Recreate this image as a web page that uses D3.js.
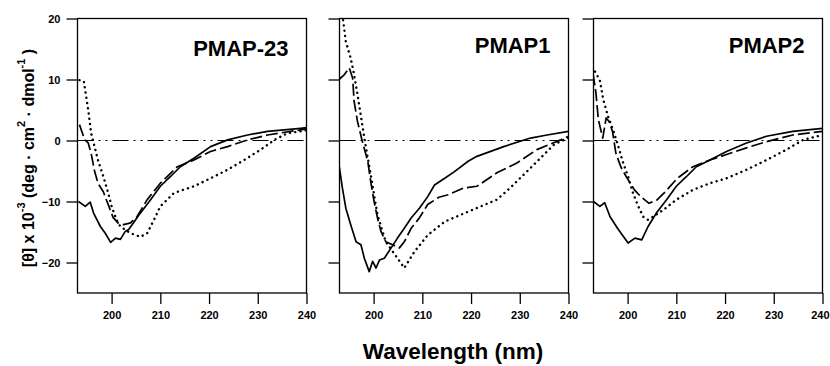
<!DOCTYPE html>
<html><head><meta charset="utf-8">
<script src="https://cdn.jsdelivr.net/npm/d3@7"></script>
<style>
html,body{margin:0;padding:0;background:#fff;}
svg{display:block;}
text{font-family:"Liberation Sans",Arial,sans-serif;font-weight:bold;fill:#000;}
</style></head>
<body>
<svg id="chart" width="830" height="366"></svg>
<script>
// ---------- data ----------
const panelNames = ["PMAP-23", "PMAP1", "PMAP2"];
const xTicks = [200, 210, 220, 230, 240];
const yTicks = [20, 10, 0, -10, -20];
const xDomain = [193, 240];
const yDomain = [-25, 20];

const pmap23Solid = [[193.2,-10.0],[194.6,-10.8],[195.6,-10.1],[196.3,-11.9],[197.7,-14.1],[198.7,-15.2],[199.8,-16.7],[200.8,-16.0],[201.8,-16.2],[202.8,-14.9],[203.5,-14.6],[204.5,-13.5],[205.6,-12.2],[206.6,-11.2],[208,-9.7],[210,-7.5],[212.1,-5.9],[214.1,-4.3],[216.9,-2.9],[220.3,-1.0],[223.8,0.1],[227.9,0.9],[232,1.5],[238.8,2.0],[240,2.1]];
const pmap23Dashed = [[193.4,2.6],[194.5,0.1],[195.2,-0.4],[195.8,-2.1],[196.5,-5.0],[197.2,-7.0],[198.3,-8.4],[199.3,-10.5],[200.3,-12.6],[201.3,-13.5],[202.5,-13.8],[203.9,-13.5],[205.2,-12.5],[207.3,-9.7],[210,-7.0],[213.5,-4.3],[216.9,-3.2],[220.3,-1.8],[223.8,-1.0],[227.9,0.1],[232,0.9],[238.8,1.75],[240,1.9]];
const pmap23Dotted = [[193.4,9.9],[194.3,9.7],[195.2,5.0],[195.8,1.2],[196.5,-1.0],[197.2,-3.2],[198.3,-5.9],[199.3,-8.6],[200.0,-10.8],[201.0,-13.0],[201.8,-14.1],[203.9,-15.2],[205.9,-15.8],[207.3,-15.2],[208.7,-13.0],[210,-10.8],[212.8,-8.6],[216.9,-7.5],[220.3,-6.2],[223.8,-4.8],[227.2,-3.2],[230.6,-1.5],[233.4,0.1],[236.1,1.2],[238.8,1.5],[240,1.7]];

const pmap1Solid = [[192.9,-4.0],[193.6,-7.8],[194.3,-11.1],[195.3,-13.8],[196.4,-16.6],[197.4,-17.1],[198.1,-19.3],[199.1,-21.5],[199.8,-19.8],[200.5,-20.9],[201.2,-19.6],[202.2,-19.3],[203.6,-17.6],[204.9,-16.0],[206.3,-14.4],[207.7,-12.7],[209.4,-11.1],[211.1,-9.2],[212.5,-7.3],[214.6,-6.2],[216.6,-5.1],[219.4,-3.4],[221.2,-2.6],[226.7,-1.0],[232.2,0.4],[235.6,0.9],[240,1.5]];
const pmap1Dashed = [[192.9,10.0],[194,10.8],[195,11.9],[195.7,10.2],[196,6.4],[196.7,3.1],[197.7,-0.2],[198.8,-3.4],[199.4,-6.7],[200.1,-10.0],[200.8,-12.7],[201.5,-14.9],[202.5,-16.6],[203.9,-17.1],[205.3,-17.6],[206.3,-16.6],[207.7,-14.4],[209.3,-12.8],[211.1,-10.5],[213.4,-9.3],[215.3,-8.9],[218.4,-7.8],[221.2,-7.5],[225.3,-5.3],[229.4,-3.7],[233.5,-1.5],[238.4,0.1],[240,0.7]];
const pmap1Dotted = [[193.6,20.6],[194.3,16.2],[195.3,13.5],[196,10.8],[196.7,7.5],[198.1,0.4],[199.4,-5.6],[200.8,-12.2],[202.5,-16.6],[204.9,-19.3],[206.3,-20.9],[208.4,-18.2],[211.1,-15.5],[214.6,-13.3],[219.6,-11.6],[225.3,-9.7],[228,-7.8],[232.2,-4.5],[237,-0.7],[240,0.5]];

const pmap2Solid = [[193,-10.0],[194.3,-10.8],[195.3,-10.2],[196.4,-12.5],[198.1,-14.6],[200.1,-16.8],[201.5,-16.0],[202.9,-16.3],[204.2,-14.1],[205.9,-11.9],[208,-9.7],[210,-7.5],[212.1,-5.9],[214.1,-4.3],[216.9,-3.2],[220.3,-1.8],[224.4,-0.4],[228.5,0.7],[233.9,1.5],[240,2.0]];
const pmap2Dashed = [[192.9,11.0],[193.5,7.8],[194,3.4],[194.9,0.4],[195.6,3.7],[196.2,3.1],[196.9,1.5],[197.6,-2.1],[198.6,-4.3],[199.7,-5.9],[201.4,-8.1],[202.7,-9.2],[204.4,-10.3],[206.1,-9.7],[207.5,-8.6],[210.2,-6.2],[213.4,-4.3],[216.9,-3.2],[220.3,-2.3],[224.4,-1.2],[228.5,-0.2],[233.9,0.9],[240,1.5]];
const pmap2Dotted = [[193.3,11.3],[194.3,9.9],[195,6.7],[196,3.9],[197,1.8],[198.1,-1.0],[199.1,-3.7],[200.1,-5.9],[201.1,-8.6],[202.2,-10.8],[203.2,-12.5],[204.2,-13.0],[205.2,-12.5],[207.3,-11.4],[210,-9.7],[213.4,-8.1],[216.9,-7.0],[220.3,-6.2],[224.4,-4.8],[228.5,-3.2],[232.6,-1.5],[236,0.1],[240,0.9]];

const panelSeries = [
  [pmap23Solid, pmap23Dashed, pmap23Dotted],
  [pmap1Solid, pmap1Dashed, pmap1Dotted],
  [pmap2Solid, pmap2Dashed, pmap2Dotted]
];

// ---------- layout ----------
const panelLefts = [77.5, 339.5, 593.5];
const panelW = 229;
const plotTop = 18.5, plotBottom = 293;
const styles = [
  {dash: null, width: 1.7, cap: "butt"},
  {dash: "12,4", width: 1.7, cap: "butt"},
  {dash: "0.1,5.2", width: 2.4, cap: "round"}
];

const svg = d3.select("#chart");
const y = d3.scaleLinear().domain(yDomain).range([plotBottom, plotTop]);

panelLefts.forEach((left, i) => {
  const x = d3.scaleLinear().domain(xDomain).range([left, left + panelW]);
  const g = svg.append("g");
  const clipId = "clip" + i;
  svg.append("clipPath").attr("id", clipId).append("rect")
    .attr("x", left).attr("y", plotTop).attr("width", panelW).attr("height", plotBottom - plotTop);

  // zero reference line
  g.append("line").attr("x1", left).attr("x2", left + panelW)
    .attr("y1", y(0)).attr("y2", y(0))
    .attr("stroke", "#000").attr("stroke-width", 1.2)
    .attr("stroke-dasharray", "16,5,2,5,2,5");

  // series
  const line = d3.line().x(d => x(d[0])).y(d => y(d[1])).curve(d3.curveLinear);
  panelSeries[i].forEach((data, k) => {
    const st = styles[k];
    g.append("path").datum(data).attr("d", line)
      .attr("clip-path", `url(#${clipId})`)
      .attr("fill", "none").attr("stroke", "#000")
      .attr("stroke-width", st.width)
      .attr("stroke-linecap", st.cap)
      .attr("stroke-linejoin", "round")
      .attr("stroke-dasharray", st.dash);
  });

  // frame
  g.append("rect").attr("x", left).attr("y", plotTop).attr("width", panelW).attr("height", plotBottom - plotTop)
    .attr("fill", "none").attr("stroke", "#000").attr("stroke-width", 1.3);

  // x axis
  const xAxis = d3.axisBottom(x).tickValues(xTicks).tickSize(11).tickPadding(7).tickFormat(d3.format("d"));
  const xa = g.append("g").attr("transform", `translate(0,${plotBottom})`).call(xAxis);
  xa.select(".domain").remove();
  xa.selectAll(".tick line").attr("stroke-width", 1.3);
  xa.selectAll("text").attr("font-size", 11).attr("font-family", "Liberation Sans, Arial, sans-serif").attr("font-weight", "bold");
  if (i === panelLefts.length - 1) {
    // keep the last label inside the page edge
    xa.selectAll(".tick").filter(d => d === 240).select("text")
      .attr("text-anchor", "end").attr("x", 829 - x(240));
  }

  // y axis
  const yAxis = d3.axisLeft(y).tickValues(yTicks).tickSize(11).tickPadding(6).tickFormat(i === 0 ? d3.format("d") : () => "");
  const ya = g.append("g").attr("transform", `translate(${left},0)`).call(yAxis);
  ya.select(".domain").remove();
  ya.selectAll(".tick line").attr("stroke-width", 1.3);
  ya.selectAll("text").attr("font-size", 11).attr("font-family", "Liberation Sans, Arial, sans-serif").attr("font-weight", "bold");

  // panel label
  g.append("text").attr("x", left + panelW - 18).attr("y", i === 0 ? 56 : 53)
    .attr("text-anchor", "end").attr("font-size", 22).text(panelNames[i]);
});

// axis titles
svg.append("text").attr("x", 453).attr("y", 359).attr("text-anchor", "middle")
  .attr("font-size", 22.5).text("Wavelength (nm)");

const yl = svg.append("text").attr("transform", "translate(34,158) rotate(-90)")
  .attr("text-anchor", "middle").attr("font-size", 16);
yl.append("tspan").text("[θ] x 10");
yl.append("tspan").attr("dy", -9).attr("font-size", 11).text("-3");
yl.append("tspan").attr("dy", 9).text(" (deg · cm");
yl.append("tspan").attr("dy", -9).attr("font-size", 11).text("2");
yl.append("tspan").attr("dy", 9).text(" · dmol");
yl.append("tspan").attr("dy", -9).attr("font-size", 11).text("-1");
yl.append("tspan").attr("dy", 9).text(" )");
</script>
</body></html>
